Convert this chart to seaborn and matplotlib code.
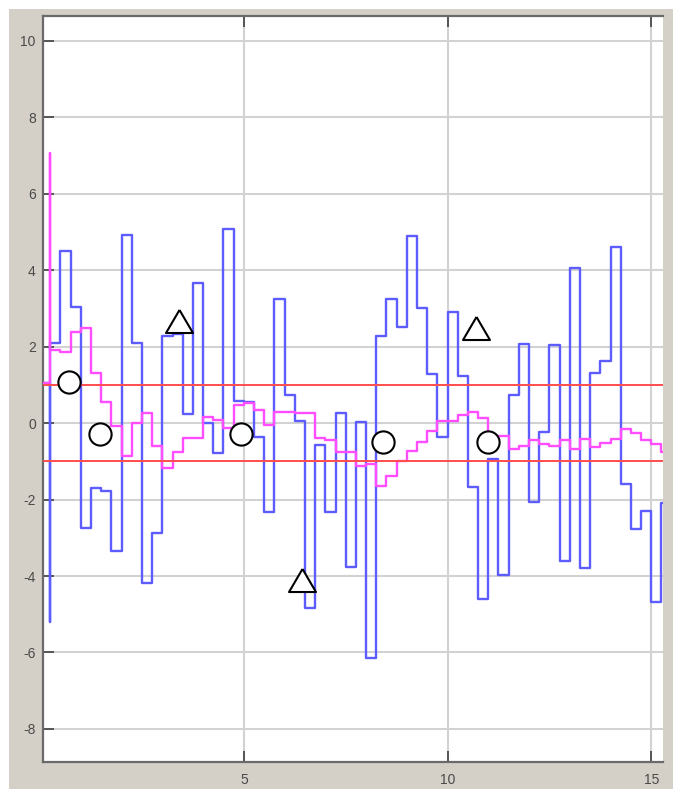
import numpy as np
import pandas as pd
import matplotlib
matplotlib.use("Agg")
import matplotlib.pyplot as plt
from matplotlib.patches import Rectangle
import seaborn as sns

# Sample edges of the zero-order-hold signals (s)
step_edges = [0.0, 0.25, 0.5, 0.75, 1.0, 1.25, 1.5, 1.75, 2.0, 2.25, 2.5, 2.75,
              3.0, 3.25, 3.5, 3.75, 4.0, 4.25, 4.5, 4.75, 5.0, 5.25, 5.5, 5.75,
              6.0, 6.25, 6.5, 6.75, 7.0, 7.25, 7.5, 7.75, 8.0, 8.25, 8.5, 8.75,
              9.0, 9.25, 9.5, 9.75, 10.0, 10.25, 10.5, 10.75, 11.0, 11.25, 11.5,
              11.75, 12.0, 12.25, 12.5, 12.75, 13.0, 13.25, 13.5, 13.75, 14.0,
              14.25, 14.5, 14.75, 15.0, 15.25, 15.5]

# Raw signal, one value per step
blue_values = [1.05, 2.09, 4.51, 3.04, -2.74, -1.70, -1.79, -3.34, 4.92, 2.10,
               -4.19, -2.87, 2.28, 2.33, 0.24, 3.67, 0.00, -0.79, 5.08, 0.58,
               0.56, -0.36, -2.32, 3.25, 0.73, 0.04, -4.84, -0.57, -2.32, 0.27,
               -3.76, 0.02, -6.15, 2.28, 3.25, 2.50, 4.89, 3.02, 1.28, -0.36,
               2.89, 1.23, -1.68, -4.60, -0.94, -3.97, 0.72, 2.07, -2.07, -0.24,
               2.04, -3.62, 4.05, -3.78, 1.32, 1.61, 4.60, -1.59, -2.77, -2.30,
               -4.69, -2.08]
blue_onset_spike = -5.19

# Smoothed signal, one value per step
magenta_values = [1.05, 1.90, 1.85, 2.37, 2.48, 1.30, 0.56, -0.09, -0.86, 0.01,
                  0.27, -0.60, -1.17, -0.77, -0.38, -0.38, 0.15, 0.08, -0.14, 0.47,
                  0.52, 0.34, -0.05, 0.30, 0.30, 0.25, 0.26, -0.40, -0.44, -0.75,
                  -0.75, -1.12, -1.07, -1.64, -1.38, -0.98, -0.72, -0.49, -0.22, 0.04,
                  0.06, 0.21, 0.28, 0.12, -0.36, -0.35, -0.68, -0.59, -0.44, -0.55,
                  -0.59, -0.44, -0.68, -0.43, -0.62, -0.53, -0.43, -0.16, -0.27, -0.44,
                  -0.56, -0.75]
magenta_onset_spike = 7.07

# Tolerance band
band_limits = [1.0, -1.0]

# Annotation symbols
circle_t = [0.72, 1.46, 4.94, 8.41, 10.99]
circle_y = [1.07, -0.29, -0.29, -0.49, -0.49]
triangle_t = [3.41, 6.42, 10.69]
triangle_y = [2.68, -4.10, 2.49]

x_ticks = [5, 10, 15]
y_ticks = [-8, -6, -4, -2, 0, 2, 4, 6, 8, 10]


def stair_frame(values, spike):
    """Build a steps-post table, with a zero-width spike at the first edge."""
    t = [step_edges[0], step_edges[1]] + step_edges[1:]
    v = [values[0], spike] + values[1:] + [values[-1]]
    return pd.DataFrame({"t": t, "v": v})


sns.set_theme(style="white")
plt.rcParams["font.family"] = ["Liberation Sans", "DejaVu Sans"]
plt.rcParams["axes.unicode_minus"] = False

W, H = 673, 789
fig = plt.figure(figsize=(W / 100, H / 100), dpi=100, facecolor="white")
fig.add_artist(Rectangle((9 / W, 0), 1, 1 - 9 / H, transform=fig.transFigure,
                         facecolor="#D4D0C8", edgecolor="none", zorder=0))

left, right, top, bottom = 42.7, 662.7, 15.7, 761.5
ax = fig.add_axes([left / W, 1 - bottom / H, (right - left) / W, (bottom - top) / H])
ax.set_facecolor("white")

sns.lineplot(data=stair_frame(blue_values, blue_onset_spike), x="t", y="v",
             drawstyle="steps-post", estimator=None, sort=False,
             color="#5c5cff", lw=1.7, ax=ax, zorder=3)
sns.lineplot(data=stair_frame(magenta_values, magenta_onset_spike), x="t", y="v",
             drawstyle="steps-post", estimator=None, sort=False,
             color="#ff4dff", lw=1.7, ax=ax, zorder=3)

for lim in band_limits:
    ax.axhline(lim, color="#ff4d4d", lw=1.4, zorder=4)

sns.scatterplot(x=circle_t, y=circle_y, marker="o", s=16.0 ** 2,
                color="white", edgecolor="black", linewidth=1.5, ax=ax, zorder=6)
tri_marker = [(0, 1), (-1.17, -1), (1.17, -1), (0, 1)]
sns.scatterplot(x=triangle_t, y=triangle_y, marker=tri_marker, s=19.4 ** 2,
                color="white", edgecolor="black", linewidth=1.5, ax=ax, zorder=6)

ax.set_xlim(0.064, 15.28)
ax.set_ylim(-8.85, 10.65)
ax.set_xticks(x_ticks)
ax.set_yticks(y_ticks)
ax.set_xlabel("")
ax.set_ylabel("")

ax.set_axisbelow(True)
ax.grid(True, color="#d2d2d2", lw=1.5)

for side in ["left", "bottom", "top"]:
    ax.spines[side].set_visible(True)
    ax.spines[side].set_color("#6a6a6a")
    ax.spines[side].set_linewidth(1.6)
ax.spines["right"].set_visible(False)

ax.tick_params(axis="both", direction="in", length=8, width=1.4, color="#555555",
               labelsize=10, labelcolor="#4a4a4a")
ax.tick_params(axis="x", top=True, bottom=True, pad=8)
ax.tick_params(axis="y", left=True, right=False, pad=5)

fig.savefig("out.png", dpi=100, facecolor=fig.get_facecolor())
